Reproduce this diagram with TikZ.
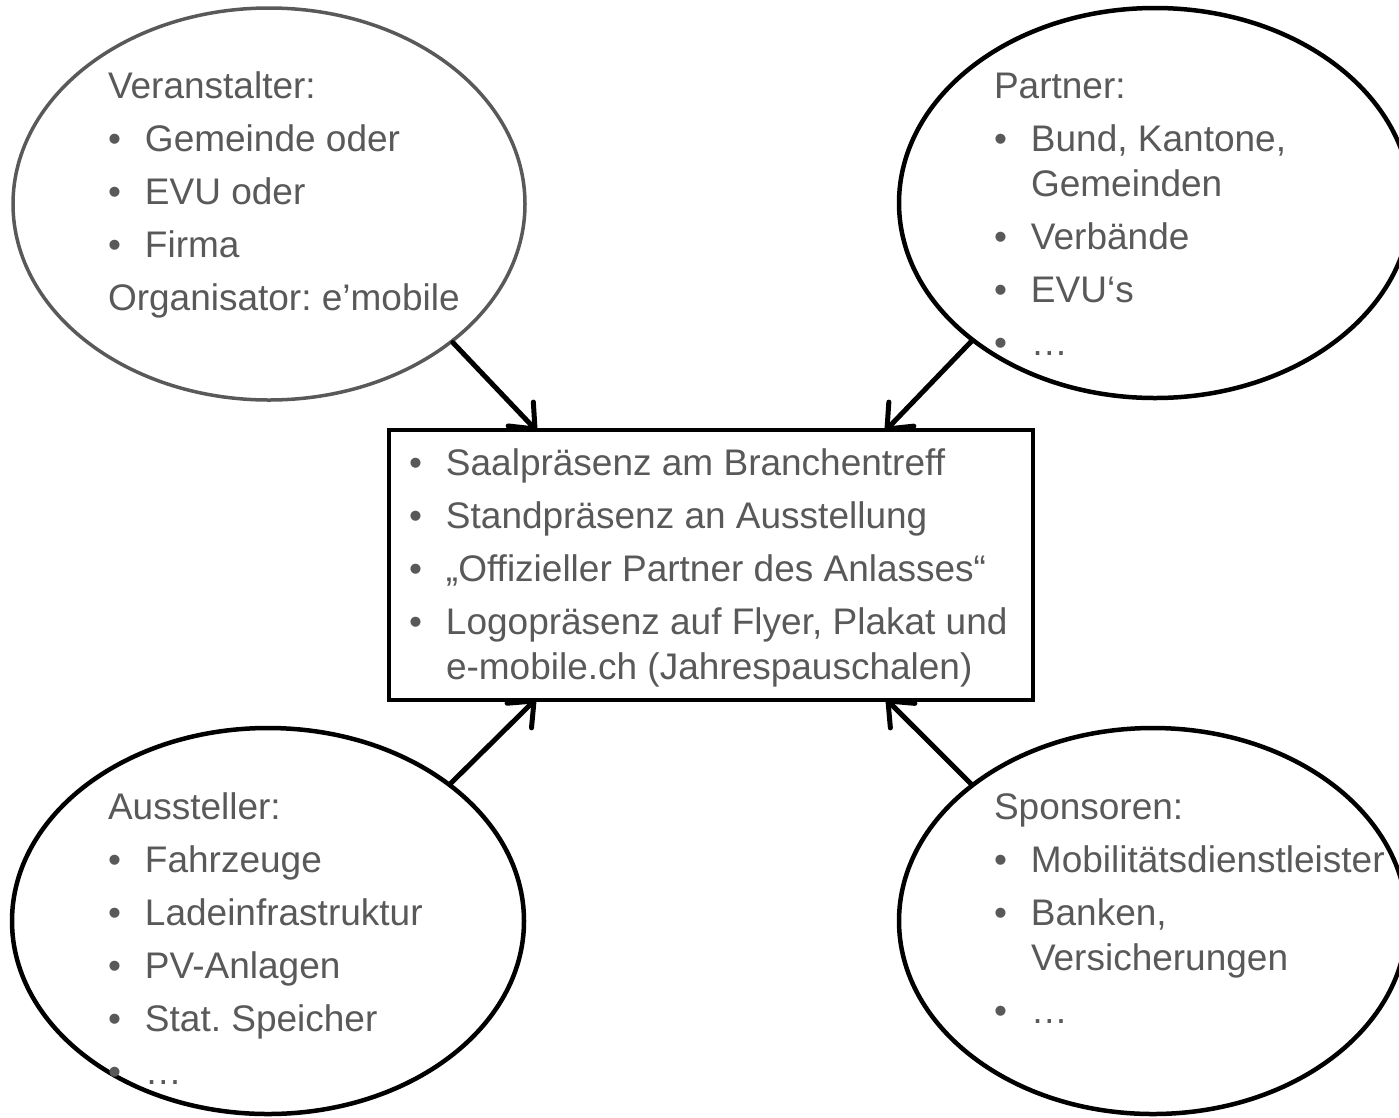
\documentclass[tikz,border=0pt]{standalone}
\usepackage{fontspec}
\setmainfont{Liberation Sans}
\usetikzlibrary{calc,shapes.geometric}
\definecolor{tgray}{HTML}{595959}
\newcommand\bulline[4]{\node[txt,name=#1] at (#2,#3) {\makebox[37pt][l]{•}#4};}
\newcommand\plainline[4]{\node[txt,name=#1] at (#2,#3) {#4};}
\newcommand\linkarrow[2]{%
  \draw[arr] (#1) -- (#2);
  \draw[arr] ($(#2)!27pt!40:(#1)$) -- (#2) -- ($(#2)!27pt!-40:(#1)$);}
\frenchspacing
\begin{document}
\begin{tikzpicture}[x=1pt,y=-1pt,
  txt/.style={anchor=base west,inner sep=0pt,outer sep=0pt,text=tgray,font=\fontsize{37}{45}\selectfont\frenchspacing},
  oval/.style={ellipse,draw=black,line width=4.5pt,fill=white,inner sep=0pt},
  mainbox/.style={rectangle,draw=black,line width=4pt,fill=white,inner sep=0pt,minimum width=644pt,minimum height=270pt},
  arr/.style={line width=5pt,line cap=round,line join=round}]
\useasboundingbox (0,0) rectangle (1399,1117);
\clip (0,0) rectangle (1399,1117);
% ellipses
\node[oval,draw=tgray,line width=3.5pt,minimum width=512pt,minimum height=392pt] (tl) at (269,204) {};
\node[oval,minimum width=512pt,minimum height=390pt] (tr) at (1155,203) {};
\node[oval,minimum width=512pt,minimum height=386pt] (bl) at (268,921) {};
\node[oval,minimum width=508pt,minimum height=386pt] (br) at (1153,921) {};
% central box
\node[mainbox] (box) at (711,565) {};
% arrow end points on the box
\coordinate (e1) at (535,429);
\coordinate (e2) at (887,429);
\coordinate (e3) at (534,701);
\coordinate (e4) at (888,701);
\linkarrow{tl.-37}{e1}
\linkarrow{tr.-143}{e2}
\linkarrow{bl.37}{e3}
\linkarrow{br.143}{e4}
% top-left text
\plainline{a0}{108}{98}{Veranstalter:}
\bulline{a1}{108}{151}{Gemeinde oder}
\bulline{a2}{108}{204}{EVU oder}
\bulline{a3}{108}{257}{Firma}
\plainline{a4}{108}{310}{Organisator: e’mobile}
% top-right text
\plainline{b0}{994}{98}{Partner:}
\bulline{b1}{994}{151}{Bund, Kantone,}
\plainline{b2}{1031}{196}{Gemeinden}
\bulline{b3}{994}{249}{Verbände}
\bulline{b4}{994}{302}{EVU‘s}
\bulline{b5}{994}{355}{…}
% box text
\bulline{c1}{409}{475}{Saalpräsenz am Branchentreff}
\bulline{c2}{409}{528}{Standpräsenz an Ausstellung}
\bulline{c3}{409}{581}{„Offizieller Partner des Anlasses“}
\bulline{c4}{409}{634}{Logopräsenz auf Flyer, Plakat und}
\plainline{c5}{446}{679}{e-mobile.ch (Jahrespauschalen)}
% bottom-left text
\plainline{d0}{108}{819}{Aussteller:}
\bulline{d1}{108}{872}{Fahrzeuge}
\bulline{d2}{108}{925}{Ladeinfrastruktur}
\bulline{d3}{108}{978}{PV-Anlagen}
\bulline{d4}{108}{1031}{Stat. Speicher}
\bulline{d5}{108}{1084}{…}
% bottom-right text
\plainline{f0}{994}{819}{Sponsoren:}
\bulline{f1}{994}{872}{Mobilitätsdienstleister}
\bulline{f2}{994}{925}{Banken,}
\plainline{f3}{1031}{970}{Versicherungen}
\bulline{f4}{994}{1023}{…}
\end{tikzpicture}
\end{document}
